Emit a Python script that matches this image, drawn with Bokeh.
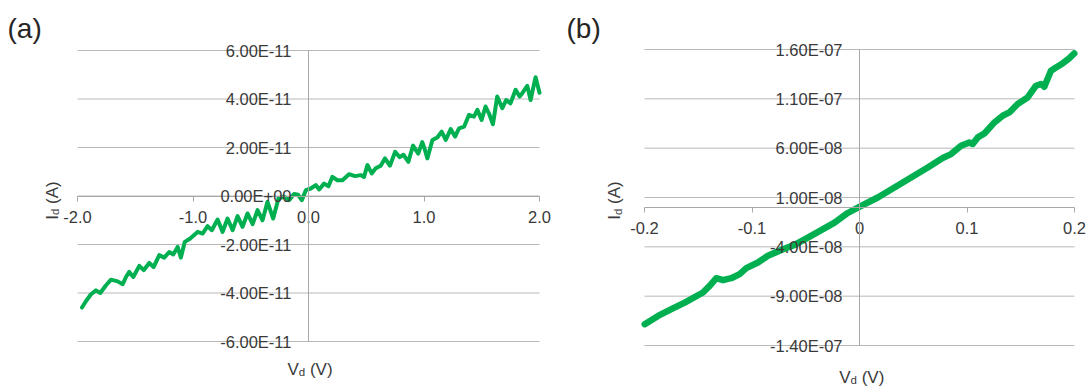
import math
from bokeh.plotting import figure
from bokeh.models import Range1d, FixedTicker, CustomJSTickFormatter, Label
from bokeh.layouts import row
from bokeh.embed import file_html
from bokeh.resources import INLINE

FONT = "Liberation Sans"
TXT = "#3a3a3a"
GREEN = "#00b050"
GRID = "#b8b8b8"
AXC = "#a8a8a8"

# ---------------- data: panel (a) ----------------
vd_a = [-1.961, -1.926, -1.883, -1.840, -1.803, -1.753, -1.710, -1.652, -1.609, -1.580,
        -1.552, -1.517, -1.465, -1.427, -1.379, -1.341, -1.292, -1.249, -1.206, -1.171,
        -1.133, -1.105, -1.071, -1.024, -0.960, -0.917, -0.874, -0.837, -0.787, -0.744,
        -0.701, -0.657, -0.614, -0.571, -0.528, -0.484, -0.441, -0.398, -0.355, -0.306,
        -0.260, -0.211, -0.168, -0.125, -0.090, -0.058, -0.023, 0.020, 0.063, 0.092,
        0.135, 0.173, 0.207, 0.250, 0.294, 0.351, 0.403, 0.452, 0.481, 0.510,
        0.547, 0.582, 0.625, 0.662, 0.705, 0.750, 0.790, 0.822, 0.865, 0.905,
        0.950, 0.985, 1.005, 1.029, 1.073, 1.115, 1.153, 1.188, 1.231, 1.269,
        1.303, 1.347, 1.389, 1.433, 1.462, 1.499, 1.533, 1.562, 1.597, 1.634,
        1.678, 1.712, 1.749, 1.793, 1.828, 1.851, 1.894, 1.923, 1.966, 2.000]
id_a_e11 = [-4.60, -4.33, -4.05, -3.89, -4.00, -3.68, -3.45, -3.52, -3.64, -3.34,
            -3.13, -3.34, -2.88, -3.06, -2.76, -2.93, -2.44, -2.54, -2.31, -2.41,
            -2.10, -2.54, -1.89, -1.75, -1.48, -1.55, -1.24, -1.41, -0.97, -1.48,
            -0.93, -1.41, -0.83, -1.27, -0.72, -1.16, -0.58, -1.00, -0.24, -0.93,
            -0.10, -0.03, -0.17, 0.08, 0.05, -0.17, 0.24, 0.31, 0.45, 0.27,
            0.51, 0.40, 0.79, 0.65, 0.65, 0.90, 0.82, 0.86, 0.79, 1.28,
            0.93, 1.14, 1.25, 1.55, 1.25, 1.82, 1.60, 1.70, 1.41, 2.08,
            1.75, 2.22, 1.95, 1.55, 2.31, 2.41, 2.65, 2.31, 2.76, 2.45,
            2.79, 2.86, 3.34, 3.27, 3.55, 3.14, 3.69, 3.41, 2.96, 4.10,
            3.62, 3.96, 3.82, 4.38, 4.10, 4.24, 4.54, 3.96, 4.90, 4.26]
xticks_a = [-2.0, -1.0, 0.0, 1.0, 2.0]
xlabels_a = ["-2.0", "-1.0", "0.0", "1.0", "2.0"]
yticks_a = [-6e-11, -4e-11, -2e-11, 0.0, 2e-11, 4e-11, 6e-11]
ylabels_a = ["-6.00E-11", "-4.00E-11", "-2.00E-11", "0.00E+00", "2.00E-11", "4.00E-11", "6.00E-11"]

# ---------------- data: panel (b) ----------------
vd_b = [-0.1998, -0.1874, -0.1750, -0.1626, -0.1456, -0.1394, -0.1332, -0.1270, -0.1193, -0.1115,
        -0.1053, -0.0945, -0.0852, -0.0728, -0.0604, -0.0480, -0.0356, -0.0232, -0.0109, 0.0016,
        0.0170, 0.0325, 0.0480, 0.0635, 0.0774, 0.0852, 0.0945, 0.1022, 0.1053, 0.1100,
        0.1162, 0.1255, 0.1332, 0.1394, 0.1471, 0.1564, 0.1642, 0.1688, 0.1719, 0.1781,
        0.1828, 0.1889, 0.1950, 0.1998]
id_b_e8 = [-11.84, -11.00, -10.32, -9.65, -8.63, -7.96, -7.18, -7.38, -7.18, -6.77,
           -6.16, -5.59, -4.91, -4.33, -3.80, -3.06, -2.31, -1.54, -0.57, 0.16,
           1.00, 2.01, 3.03, 4.04, 5.00, 5.40, 6.24, 6.58, 6.42, 7.09,
           7.49, 8.61, 9.29, 9.62, 10.47, 11.14, 12.33, 12.50, 12.23, 13.85,
           14.18, 14.59, 15.10, 15.60]
xticks_b = [-0.2, -0.1, 0.0, 0.1, 0.2]
xlabels_b = ["-0.2", "-0.1", "0", "0.1", "0.2"]
yticks_b = [-1.4e-7, -9e-8, -4e-8, 1e-8, 6e-8, 1.1e-7, 1.6e-7]
ylabels_b = ["-1.40E-07", "-9.00E-08", "-4.00E-08", "1.00E-08", "6.00E-08", "1.10E-07", "1.60E-07"]

id_a = [v * 1e-11 for v in id_a_e11]
id_b = [v * 1e-8 for v in id_b_e8]


def fmt(ticks, labels):
    return CustomJSTickFormatter(args=dict(v=ticks, l=labels), code="""
let b = 0;
for (let i = 0; i < v.length; i++) { if (Math.abs(v[i] - tick) < Math.abs(v[b] - tick)) b = i; }
return l[b];
""")


EM = {"V": 0.667, "I": 0.278, "d": 0.556, " ": 0.278, "(V)": 1.333, "(A)": 1.333}
TFS, SFS = 17, 11.5


class Panel:
    def __init__(self, fx, fy, W, H, box, xd, yd):
        # fx, fy: page position of figure; box: page pixels (left, right, top, bottom) of data area
        self.fx, self.fy, self.W, self.H = fx, fy, W, H
        l, r, t, b = box
        x0, x1 = xd
        y0, y1 = yd
        ux = (r - l) / (x1 - x0)
        uy = (b - t) / (y1 - y0)
        self.xr = (x0 - (l - fx) / ux, x1 + (fx + W - r) / ux)
        self.yr = (y0 - (fy + H - b) / uy, y1 + (t - fy) / uy)
        self.p = figure(width=W, height=H, x_range=Range1d(*self.xr), y_range=Range1d(*self.yr),
                        output_backend="svg", toolbar_location=None, title=None, min_border=0)
        p = self.p
        p.outline_line_color = None
        p.background_fill_color = "white"
        p.border_fill_color = "white"
        p.xgrid.visible = False
        p.ygrid.visible = False

    def lab(self, px, py, text, size, angle=0.0, color=TXT):
        self.p.add_layout(Label(x=px - self.fx, y=self.fy + self.H - py, x_units="screen", y_units="screen",
                                text=text, text_font=FONT, text_font_size=f"{size}px", text_color=color,
                                text_align="left", text_baseline="alphabetic", angle=angle))

    def xtitle(self, cx, by):
        w = (EM["V"] + EM[" "] + EM["(V)"]) * TFS + EM["d"] * SFS
        x0 = cx - w / 2
        self.lab(x0, by, "V", TFS)
        self.lab(x0 + EM["V"] * TFS, by + 3, "d", SFS)
        self.lab(x0 + (EM["V"] + EM[" "]) * TFS + EM["d"] * SFS, by, "(V)", TFS)

    def ytitle(self, bx, cy):
        w = (EM["I"] + EM[" "] + EM["(A)"]) * TFS + EM["d"] * SFS
        y0 = cy + w / 2
        a = math.pi / 2
        self.lab(bx, y0, "I", TFS, a)
        self.lab(bx + 3, y0 - EM["I"] * TFS, "d", SFS, a)
        self.lab(bx, y0 - (EM["I"] + EM[" "]) * TFS - EM["d"] * SFS, "(A)", TFS, a)


def build(pan, vx, vy, xd, yd, xt, xl, yt, yl, lw):
    p = pan.p
    n = len(yt)
    p.segment(x0=[xd[0]] * n, y0=yt, x1=[xd[1]] * n, y1=yt, line_color=GRID, line_width=1)

    xa = p.xaxis[0]
    xa.fixed_location = 0
    xa.bounds = xd
    xa.ticker = FixedTicker(ticks=xt)
    xa.formatter = fmt(xt, xl)
    xa.axis_line_color = AXC
    xa.major_tick_line_color = AXC
    xa.major_tick_out = 5
    xa.major_tick_in = 0
    xa.minor_tick_out = 0
    xa.minor_tick_in = 0
    xa.major_label_standoff = 10
    xa.major_label_text_font = FONT
    xa.major_label_text_font_size = "16.5px"
    xa.major_label_text_color = TXT

    ya = p.yaxis[0]
    ya.fixed_location = 0
    ya.bounds = yd
    ya.ticker = FixedTicker(ticks=yt)
    ya.formatter = fmt(yt, yl)
    ya.axis_line_color = AXC
    ya.major_tick_out = 0
    ya.major_tick_in = 0
    ya.minor_tick_out = 0
    ya.minor_tick_in = 0
    ya.major_label_standoff = 17
    ya.major_label_text_font = FONT
    ya.major_label_text_font_size = "16.5px"
    ya.major_label_text_color = TXT

    p.line(vx, vy, line_color=GREEN, line_width=lw, line_join="round", line_cap="round")


# panel (a): figure at page (0,0) 553x389; data area page x 77..539, y 50..341
xd_a, yd_a = (-2.0, 2.0), (-6e-11, 6e-11)
A = Panel(0, 0, 553, 389, (77, 539, 50, 341), xd_a, yd_a)
build(A, vd_a, id_a, xd_a, yd_a, xticks_a, xlabels_a, yticks_a, ylabels_a, 4)
A.lab(7, 27.5, "(a)", 28, color="#262626")
A.xtitle(309.5, 368.5)
A.ytitle(51.7, 200)

# panel (b): figure at page (553,0) 536x389; data area page x 644..1074, y 49..345
xd_b, yd_b = (-0.2, 0.2), (-1.4e-7, 1.6e-7)
B = Panel(553, 0, 536, 389, (644, 1074, 49, 345), xd_b, yd_b)
build(B, vd_b, id_b, xd_b, yd_b, xticks_b, xlabels_b, yticks_b, ylabels_b, 6.5)
B.lab(566, 27.5, "(b)", 28, color="#262626")
B.xtitle(861.3, 376.5)
B.ytitle(614.2, 200)

layout = row(A.p, B.p)
open("out.html", "w").write(file_html(layout, INLINE))
